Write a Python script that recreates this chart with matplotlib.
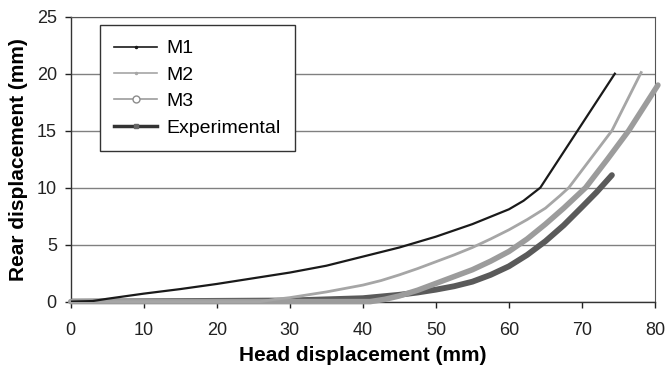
import matplotlib
matplotlib.use("Agg")
import matplotlib.pyplot as plt
from matplotlib.lines import Line2D

plt.rcParams['font.family'] = ['Liberation Sans', 'DejaVu Sans']

# head displacement (mm) vs rear displacement (mm)
m1_x = [0, 3, 5, 10, 15, 20, 25, 30, 35, 40, 45, 50, 55, 60, 62, 64.3, 74.5]
m1_y = [0, 0.05, 0.25, 0.7, 1.1, 1.55, 2.05, 2.55, 3.15, 3.95, 4.75, 5.7, 6.8, 8.1, 8.85, 10.0, 20.0]

m2_x = [0, 26, 28, 30, 32.5, 35, 37.5, 40, 42.5, 45, 47.5, 50, 52.5, 55, 57.5, 60, 62.5,
        65, 67, 68.2, 74.1, 78.1]
m2_y = [0, 0, 0.2, 0.35, 0.6, 0.85, 1.15, 1.45, 1.85, 2.35, 2.9, 3.5, 4.1, 4.75, 5.5, 6.3, 7.2,
        8.2, 9.3, 10.0, 15.0, 20.1]

m3_x = [0, 41, 43, 45, 47.5, 50, 52.5, 55, 57.5, 60, 62.5, 65, 67.5, 70.5, 73.5, 76.4, 80.4]
m3_y = [0, 0, 0.2, 0.5, 1.0, 1.6, 2.2, 2.8, 3.55, 4.4, 5.5, 6.8, 8.2, 10.0, 12.5, 15.0, 19.0]

exp_x = [0, 30, 35, 40, 42.5, 45, 47.5, 50, 52.5, 55, 57.5, 60, 62.5, 65, 67.5, 70, 72, 74.1]
exp_y = [0, 0.1, 0.2, 0.3, 0.45, 0.6, 0.8, 1.05, 1.35, 1.75, 2.35, 3.1, 4.1, 5.3, 6.7, 8.3, 9.6, 11.1]

fig = plt.figure(figsize=(6.67, 3.71), dpi=100)
ax = fig.add_axes([0.106, 0.187, 0.876, 0.768])

ax.set_axisbelow(True)
ax.yaxis.grid(True, color='#808080', linewidth=1.0)

ax.plot(exp_x, exp_y, color='#5a5a5a', linewidth=4.2, solid_capstyle='round',
        solid_joinstyle='round', zorder=3)
ax.plot(m3_x, m3_y, color='#9c9c9c', linewidth=4.0, solid_capstyle='round',
        solid_joinstyle='round', zorder=4, clip_on=False)
ax.plot(m2_x, m2_y, color='#a6a6a6', linewidth=2.0, solid_joinstyle='round', zorder=5, clip_on=False)
ax.plot(m1_x, m1_y, color='#1a1a1a', linewidth=1.6, solid_joinstyle='round', zorder=6)

ax.set_xlim(0, 80)
ax.set_ylim(0, 25)
ax.set_xticks(range(0, 81, 10))
ax.set_yticks(range(0, 26, 5))
ax.tick_params(labelsize=13, direction='out', length=4, width=1, colors='#222222')
ax.tick_params(axis='x', pad=11)
ax.tick_params(axis='y', pad=6)

for side in ['left', 'bottom']:
    ax.spines[side].set_color('#333333')
    ax.spines[side].set_linewidth(1.0)
ax.spines['top'].set_color('#555555')
ax.spines['right'].set_color('#555555')

ax.set_xlabel('Head displacement (mm)', fontsize=15, fontweight='bold', labelpad=5)
ax.set_ylabel('Rear displacement (mm)', fontsize=15, fontweight='bold', labelpad=6)

handles = [
    Line2D([], [], color='#1a1a1a', linewidth=1.2, marker='.', markersize=3),
    Line2D([], [], color='#a6a6a6', linewidth=1.2, marker='.', markersize=3),
    Line2D([], [], color='#9c9c9c', linewidth=1.2, marker='o', markersize=5,
           markerfacecolor='white', markeredgecolor='#8c8c8c'),
    Line2D([], [], color='#333333', linewidth=2.5, marker='s', markersize=3.5,
           markerfacecolor='#666666', markeredgecolor='#666666'),
]
leg = ax.legend(handles, ['M1', 'M2', 'M3', 'Experimental'], loc='upper left',
                bbox_to_anchor=(0.05, 0.97), borderaxespad=0, fontsize=14,
                frameon=True, fancybox=False, handlelength=2.2, labelspacing=0.45,
                handletextpad=0.45, borderpad=0.75)
leg.get_frame().set_edgecolor('#333333')
leg.get_frame().set_linewidth(1.0)
leg.get_frame().set_alpha(1)
leg.set_zorder(10)

fig.savefig('out.png', dpi=100)
